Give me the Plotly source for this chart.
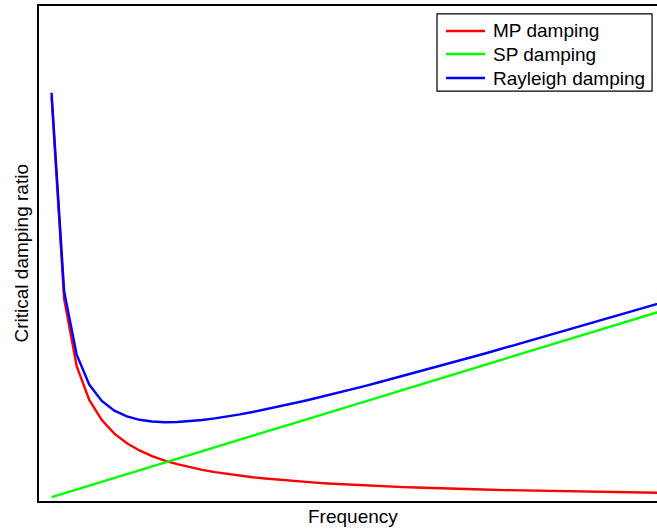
import plotly.graph_objects as go

# Frequency samples
frequency = list(range(1, 51))

# Mass-proportional damping term
mp_damping = [
    0.5000, 0.2500, 0.1667, 0.1250, 0.1000, 0.0833, 0.0714, 0.0625, 0.0556, 0.0500,
    0.0455, 0.0417, 0.0385, 0.0357, 0.0333, 0.0313, 0.0294, 0.0278, 0.0263, 0.0250,
    0.0238, 0.0227, 0.0217, 0.0208, 0.0200, 0.0192, 0.0185, 0.0179, 0.0172, 0.0167,
    0.0161, 0.0156, 0.0152, 0.0147, 0.0143, 0.0139, 0.0135, 0.0132, 0.0128, 0.0125,
    0.0122, 0.0119, 0.0116, 0.0114, 0.0111, 0.0109, 0.0106, 0.0104, 0.0102, 0.0100,
]

# Stiffness-proportional damping term
sp_damping = [
    0.0047, 0.0095, 0.0142, 0.0190, 0.0237, 0.0284, 0.0332, 0.0379, 0.0427, 0.0474,
    0.0521, 0.0569, 0.0616, 0.0664, 0.0711, 0.0758, 0.0806, 0.0853, 0.0901, 0.0948,
    0.0995, 0.1043, 0.1090, 0.1138, 0.1185, 0.1232, 0.1280, 0.1327, 0.1375, 0.1422,
    0.1469, 0.1517, 0.1564, 0.1612, 0.1659, 0.1706, 0.1754, 0.1801, 0.1849, 0.1896,
    0.1943, 0.1991, 0.2038, 0.2086, 0.2133, 0.2180, 0.2228, 0.2275, 0.2323, 0.2370,
]

# Combined Rayleigh damping
rayleigh_damping = [
    0.5047, 0.2595, 0.1809, 0.1440, 0.1237, 0.1117, 0.1046, 0.1004, 0.0983, 0.0974,
    0.0976, 0.0986, 0.1001, 0.1021, 0.1044, 0.1071, 0.1100, 0.1131, 0.1164, 0.1198,
    0.1233, 0.1270, 0.1307, 0.1346, 0.1385, 0.1424, 0.1465, 0.1506, 0.1547, 0.1589,
    0.1630, 0.1673, 0.1716, 0.1759, 0.1802, 0.1845, 0.1889, 0.1933, 0.1977, 0.2021,
    0.2065, 0.2110, 0.2154, 0.2200, 0.2244, 0.2289, 0.2334, 0.2379, 0.2425, 0.2470,
]

series_names = ["MP damping", "SP damping", "Rayleigh damping"]
series_colors = ["#ff0000", "#00ff00", "#0000ff"]
series_values = [mp_damping, sp_damping, rayleigh_damping]

FONT = "Liberation Sans, Arial, Helvetica, sans-serif"
FONT_SIZE = 19

fig = go.Figure()
for name, color, values in zip(series_names, series_colors, series_values):
    fig.add_trace(go.Scatter(x=frequency, y=values, mode="lines", name=name,
                             showlegend=False, line=dict(color=color, width=2.4)))

# Compact boxed legend in the upper-right corner (paper coordinates)
shapes = [dict(type="rect", xref="paper", yref="paper",
               x0=0.644, x1=0.992, y0=0.828, y1=0.984,
               line=dict(color="black", width=1.2), fillcolor="white", layer="above")]
annotations = []
legend_rows = [0.9495, 0.903, 0.8545]
for name, color, ly in zip(series_names, series_colors, legend_rows):
    shapes.append(dict(type="line", xref="paper", yref="paper",
                       x0=0.6586, x1=0.7217, y0=ly, y1=ly,
                       line=dict(color=color, width=2.4), layer="above"))
    annotations.append(dict(text=name, xref="paper", yref="paper", x=0.731, y=ly,
                            xanchor="left", yanchor="middle", showarrow=False,
                            font=dict(family=FONT, size=FONT_SIZE, color="black")))

# Axis titles
annotations.append(dict(text="Frequency", xref="paper", yref="paper", x=0.508, y=0,
                        xanchor="center", yanchor="middle", yshift=-15, showarrow=False,
                        font=dict(family=FONT, size=FONT_SIZE, color="black")))
annotations.append(dict(text="Critical damping ratio", xref="paper", yref="paper", x=0, y=0.5,
                        xanchor="center", yanchor="middle", xshift=-18, textangle=-90,
                        showarrow=False,
                        font=dict(family=FONT, size=FONT_SIZE, color="black")))

fig.update_layout(
    width=657, height=529,
    margin=dict(l=39, r=0, t=6, b=28),
    paper_bgcolor="white", plot_bgcolor="white",
    font=dict(family=FONT, size=FONT_SIZE, color="black"),
    showlegend=False,
    xaxis=dict(range=[0, 49.2], showgrid=False, zeroline=False, showticklabels=False,
               ticks="", showline=True, linecolor="black", linewidth=1.5, mirror=True),
    yaxis=dict(range=[0, 0.612], showgrid=False, zeroline=False, showticklabels=False,
               ticks="", showline=True, linecolor="black", linewidth=1.5, mirror=False),
    shapes=shapes,
    annotations=annotations,
)

fig.write_html("out.html")
